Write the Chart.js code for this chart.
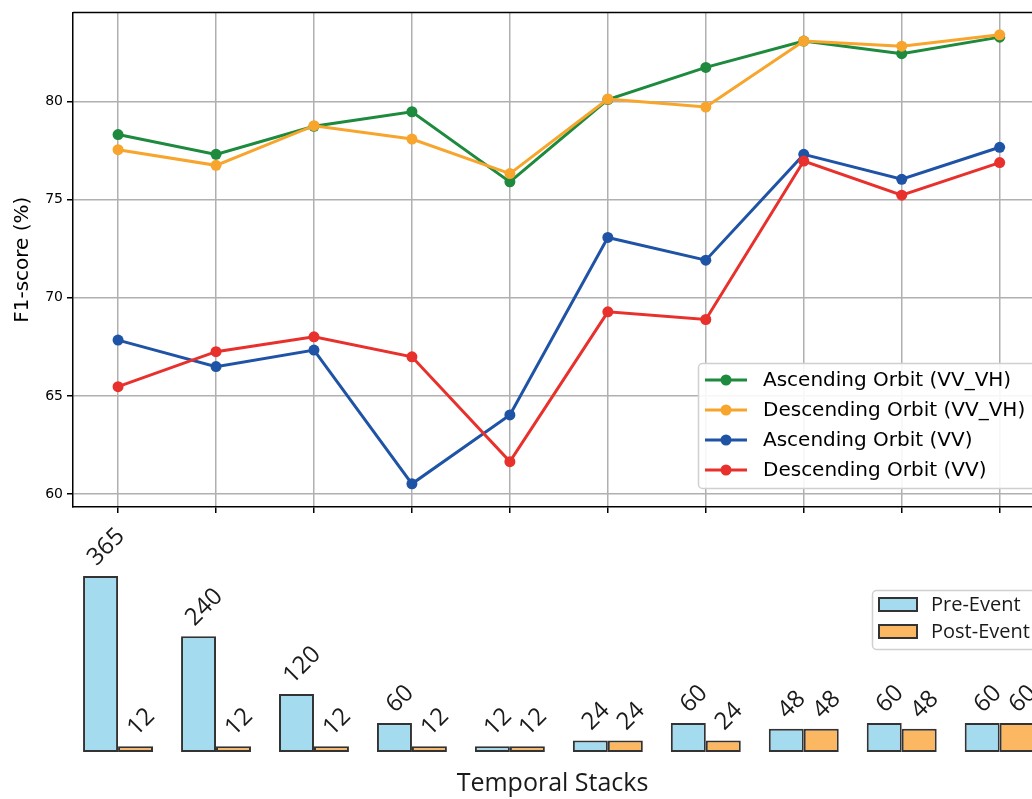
<!DOCTYPE html>
<html>
<head>
<meta charset="utf-8">
<script src="https://cdn.jsdelivr.net/npm/chart.js@4.4.1/dist/chart.umd.min.js"></script>
<style>
  html, body { margin: 0; padding: 0; background: #fff; }
  #wrap { position: relative; width: 1032px; height: 799px; }
  canvas { position: absolute; left: 0; }
  #top { top: 0; }
  #bottom { top: 520px; }
</style>
</head>
<body>
<div id="wrap">
  <canvas id="top" width="1032" height="520"></canvas>
  <canvas id="bottom" width="1032" height="279"></canvas>
</div>
<script>
// F1-score for each temporal stack (top) and number of images per stack (bottom)
const stackIndex = [0, 1, 2, 3, 4, 5, 6, 7, 8, 9];
const ascVVVH  = [78.31, 77.30, 78.73, 79.47, 75.90, 80.09, 81.73, 83.07, 82.43, 83.27];
const descVVVH = [77.54, 76.74, 78.76, 78.08, 76.32, 80.12, 79.71, 83.07, 82.81, 83.39];
const ascVV    = [67.84, 66.49, 67.33, 60.52, 64.03, 73.07, 71.91, 77.30, 76.03, 77.66];
const descVV   = [65.47, 67.25, 68.01, 66.99, 61.65, 69.28, 68.89, 76.96, 75.22, 76.88];
const yTicks = [60, 65, 70, 75, 80];

const preEvent  = [365, 240, 120, 60, 12, 24, 60, 48, 60, 60];
const postEvent = [12, 12, 12, 12, 12, 24, 24, 48, 48, 60];

// the original figure is cut on the right, so the x range stops short of 9.46
const xMin = -0.46;
const xMax = 9.33;

const toPoints = vals => stackIndex.map((x, i) => ({ x, y: vals[i] }));

function roundRect(ctx, x, y, w, h, r) {
    ctx.beginPath();
    ctx.moveTo(x + r, y);
    ctx.lineTo(x + w - r, y);
    ctx.arcTo(x + w, y, x + w, y + r, r);
    ctx.lineTo(x + w, y + h - r);
    ctx.arcTo(x + w, y + h, x + w - r, y + h, r);
    ctx.lineTo(x + r, y + h);
    ctx.arcTo(x, y + h, x, y + h - r, r);
    ctx.lineTo(x, y + r);
    ctx.arcTo(x, y, x + r, y, r);
    ctx.closePath();
}

// top spine (matplotlib style frame)
const topFrame = {
    id: 'topFrame',
    afterDraw(chart) {
        const { ctx, chartArea } = chart;
        ctx.save();
        ctx.strokeStyle = '#000';
        ctx.lineWidth = 1.5;
        ctx.beginPath();
        ctx.moveTo(chartArea.left, chartArea.top);
        ctx.lineTo(chartArea.right, chartArea.top);
        ctx.stroke();
        ctx.restore();
    }
};

// legend with line + marker, placed lower right like matplotlib
const topLegend = {
    id: 'topLegend',
    afterDraw(chart) {
        const ctx = chart.ctx;
        ctx.save();
        roundRect(ctx, 698.5, 363.5, 345, 125, 4);
        ctx.fillStyle = 'rgba(255,255,255,0.9)';
        ctx.fill();
        ctx.strokeStyle = '#d0d0d0';
        ctx.lineWidth = 1.5;
        ctx.stroke();
        ctx.font = '20px "DejaVu Sans"';
        ctx.textBaseline = 'middle';
        chart.data.datasets.forEach((ds, i) => {
            const y = 380 + i * 30;
            ctx.strokeStyle = ds.borderColor;
            ctx.lineWidth = 3;
            ctx.beginPath();
            ctx.moveTo(705, y);
            ctx.lineTo(747, y);
            ctx.stroke();
            ctx.fillStyle = ds.borderColor;
            ctx.beginPath();
            ctx.arc(726, y, 5.5, 0, Math.PI * 2);
            ctx.fill();
            ctx.fillStyle = '#000';
            ctx.fillText(ds.label, 763, y + 1);
        });
        ctx.restore();
    }
};

function lineSet(label, vals, color, order) {
    return {
        label,
        data: toPoints(vals),
        borderColor: color,
        backgroundColor: color,
        pointBackgroundColor: color,
        pointBorderWidth: 0,
        pointRadius: 5.5,
        borderWidth: 3,
        order
    };
}

new Chart(document.getElementById('top'), {
    type: 'line',
    data: {
        datasets: [
            lineSet('Ascending Orbit (VV_VH)', ascVVVH, '#1d8a3d', 4),
            lineSet('Descending Orbit (VV_VH)', descVVVH, '#f7a52c', 3),
            lineSet('Ascending Orbit (VV)', ascVV, '#1f53a6', 2),
            lineSet('Descending Orbit (VV)', descVV, '#e8302c', 1)
        ]
    },
    options: {
        responsive: false,
        animation: false,
        layout: { autoPadding: false, padding: { top: 12, left: 0, right: 0, bottom: 0 } },
        plugins: {
            legend: { display: false },
            tooltip: { enabled: false }
        },
        scales: {
            x: {
                type: 'linear',
                min: xMin,
                max: xMax,
                afterBuildTicks: s => { s.ticks = stackIndex.map(v => ({ value: v })); },
                afterFit: s => { s.height = 13; },
                ticks: { display: false },
                grid: { color: '#b0b0b0', lineWidth: 1.5, tickColor: '#000', tickLength: 6, tickWidth: 1.5 },
                border: { color: '#000', width: 1.5 }
            },
            y: {
                min: 59.34,
                max: 84.53,
                afterBuildTicks: s => { s.ticks = yTicks.map(v => ({ value: v })); },
                afterFit: s => { s.width = 73; },
                ticks: { color: '#000', font: { family: 'DejaVu Sans', size: 14 }, padding: 4 },
                grid: { color: '#b0b0b0', lineWidth: 1.5, tickColor: '#000', tickLength: 6, tickWidth: 1.5 },
                border: { color: '#000', width: 1.5 },
                title: {
                    display: true,
                    text: 'F1-score (%)',
                    color: '#000',
                    font: { family: 'DejaVu Sans', size: 20 },
                    padding: { top: 11 }
                }
            }
        }
    },
    plugins: [topFrame, topLegend]
});

// rotated value labels above each bar
const barLabels = {
    id: 'barLabels',
    afterDatasetsDraw(chart) {
        const ctx = chart.ctx;
        ctx.save();
        ctx.font = '24px "Open Sans"';
        ctx.fillStyle = '#1a1a1a';
        ctx.textAlign = 'center';
        ctx.textBaseline = 'middle';
        chart.data.datasets.forEach((ds, di) => {
            chart.getDatasetMeta(di).data.forEach((bar, i) => {
                const text = String(ds.data[i].y);
                const w = ctx.measureText(text).width;
                const half = (w + 17) * Math.SQRT1_2 / 2;
                ctx.save();
                ctx.translate(bar.x + 5, bar.y - 9 - half);
                ctx.rotate(-Math.PI / 4);
                ctx.fillText(text, 0, 1);
                ctx.restore();
            });
        });
        ctx.restore();
    }
};

const bottomLegend = {
    id: 'bottomLegend',
    afterDraw(chart) {
        const ctx = chart.ctx;
        ctx.save();
        roundRect(ctx, 872.5, 70.5, 200, 59, 4);
        ctx.fillStyle = 'rgba(255,255,255,0.9)';
        ctx.fill();
        ctx.strokeStyle = '#d0d0d0';
        ctx.lineWidth = 1.5;
        ctx.stroke();
        ctx.font = '20px "Open Sans"';
        ctx.textBaseline = 'middle';
        chart.data.datasets.forEach((ds, i) => {
            const y = 78 + i * 27;
            ctx.fillStyle = ds.backgroundColor;
            ctx.fillRect(879, y, 38, 13);
            ctx.strokeStyle = ds.borderColor;
            ctx.lineWidth = 2;
            ctx.strokeRect(879, y, 38, 13);
            ctx.fillStyle = '#1a1a1a';
            ctx.fillText(ds.label, 931, y + 7);
        });
        ctx.restore();
    }
};

new Chart(document.getElementById('bottom'), {
    type: 'bar',
    data: {
        datasets: [
            {
                label: 'Pre-Event',
                data: toPoints(preEvent),
                backgroundColor: '#a5dbef',
                borderColor: '#333333',
                borderWidth: 2,
                borderSkipped: false
            },
            {
                label: 'Post-Event',
                data: toPoints(postEvent),
                backgroundColor: '#fcb763',
                borderColor: '#333333',
                borderWidth: 2,
                borderSkipped: false
            }
        ]
    },
    options: {
        responsive: false,
        animation: false,
        layout: { autoPadding: false, padding: { top: 0, left: 73, right: 0, bottom: 0 } },
        datasets: { bar: { categoryPercentage: 0.714, barPercentage: 1 } },
        plugins: {
            legend: { display: false },
            tooltip: { enabled: false }
        },
        scales: {
            x: {
                type: 'linear',
                offset: false,
                min: xMin,
                max: xMax,
                afterFit: s => { s.height = 47; },
                grid: { display: false, drawTicks: false, offset: false },
                border: { display: false },
                ticks: { display: false },
                title: {
                    display: true,
                    text: 'Temporal Stacks',
                    color: '#1a1a1a',
                    font: { family: 'Open Sans', size: 25 },
                    padding: { top: 0, bottom: 0 }
                }
            },
            y: { display: false, min: 0, max: 481 }
        }
    },
    plugins: [barLabels, bottomLegend]
});
</script>
</body>
</html>
